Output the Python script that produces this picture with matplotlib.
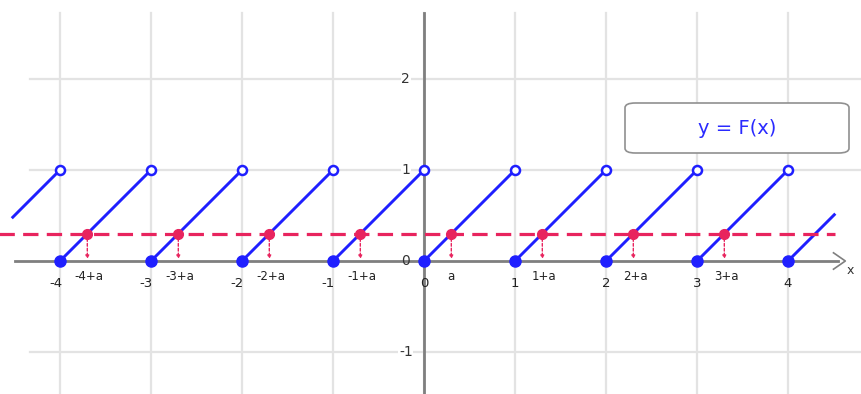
import matplotlib
matplotlib.use("Agg")
import matplotlib.pyplot as plt
from matplotlib.patches import FancyBboxPatch
import numpy as np

# ---- data ----
a = 0.3
ints = [-4, -3, -2, -1, 0, 1, 2, 3, 4]
x_start, x_end = -4.53, 4.52
int_labels = ["-4", "-3", "-2", "-1", "0", "1", "2", "3", "4"]
shift_labels = ["-4+a", "-3+a", "-2+a", "-1+a", "a", "1+a", "2+a", "3+a"]
y_ticks = [-1, 0, 1, 2]
y_labels = ["-1", "0", "1", "2"]
legend_text = "y = F(x)"

BLUE = "#1f1fff"
RED = "#e8245e"
GRID = "#e3e3e3"
AXIS = "#7f7f7f"

fig = plt.figure(figsize=(8.61, 3.94), dpi=100)
ax = fig.add_axes([0, 0, 1, 1])
u = 91.0
ax.set_xlim(-424 / u, 437 / u)
ax.set_ylim(-133 / u, 261 / u)
ax.axis("off")

# grid
for n in ints:
    ax.plot([n, n], [-2, 2.73], color=GRID, lw=1.6, zorder=0)
for yv in [-1, 1, 2]:
    ax.plot([-4.33, 5], [yv, yv], color=GRID, lw=1.6, zorder=0)

# axes
ax.plot([-4.5, 4.55], [0, 0], color=AXIS, lw=2, zorder=1)
ax.plot([0, 0], [-2, 2.73], color=AXIS, lw=2, zorder=1)
ax.plot([4.5, 4.63, 4.5], [0.09, 0.0, -0.09], color=AXIS, lw=1.2, zorder=1)
ax.text(4.68, -0.1, "x", fontsize=9, color="#333333", ha="center", va="center")

# y tick labels
for yv, lab in zip(y_ticks, y_labels):
    ax.text(-0.2, yv, lab, fontsize=10, color="#333333", ha="center", va="center",
            bbox=dict(facecolor="white", edgecolor="none", pad=0.5) if yv != 0 else None)

# x tick labels
for n, lab in zip(ints, int_labels):
    ax.text(n - (0.05 if n < 0 else 0), -0.25, lab, fontsize=9.5, color="#222222",
            ha="center", va="center")
for n, lab in zip(ints[:-1], shift_labels):
    xoff = 0.02 if n != 0 else 0.0
    ax.text(n + a + xoff, -0.17, lab, fontsize=8.5, color="#222222",
            ha="center", va="center")

# fractional part pieces
segs = [(max(n - 1, x_start), n) for n in ints] + [(ints[-1], x_end)]
for s, e in segs:
    base = np.floor(s + 1e-9)
    ax.plot([s, e], [s - base, e - base], color=BLUE, lw=2.1, zorder=3,
            solid_capstyle="butt")
for n in ints:
    ax.plot(n, 0, "o", color=BLUE, ms=8, zorder=5)
    ax.plot(n, 1, "o", mfc="white", mec=BLUE, mew=1.8, ms=6.5, zorder=5)

# horizontal line y = a
ax.plot([-4.7, x_end], [a, a], color=RED, lw=2.3, dashes=(4.8, 2.6), zorder=4)

# intersection points and drops
for n in ints[:-1]:
    xp = n + a
    ax.annotate("", xy=(xp, 0.02), xytext=(xp, a),
                arrowprops=dict(arrowstyle="-|>", color=RED, lw=1, ls=(0, (2, 1.5)),
                                mutation_scale=5, shrinkA=0, shrinkB=0), zorder=4)
    ax.plot(xp, a, "o", color=RED, ms=7, zorder=6)

# legend box
box = FancyBboxPatch((625 / 861, 1 - 153 / 394), 224 / 861, 50 / 394,
                     boxstyle="round,pad=0,rounding_size=0.012",
                     transform=fig.transFigure, facecolor="white",
                     edgecolor="#909090", lw=1.2, zorder=7)
fig.patches.append(box)
fig.text(737 / 861, 1 - 128 / 394, legend_text, fontsize=14, color="#2a2aff",
         ha="center", va="center", zorder=8)

fig.savefig("out.png", dpi=100)
